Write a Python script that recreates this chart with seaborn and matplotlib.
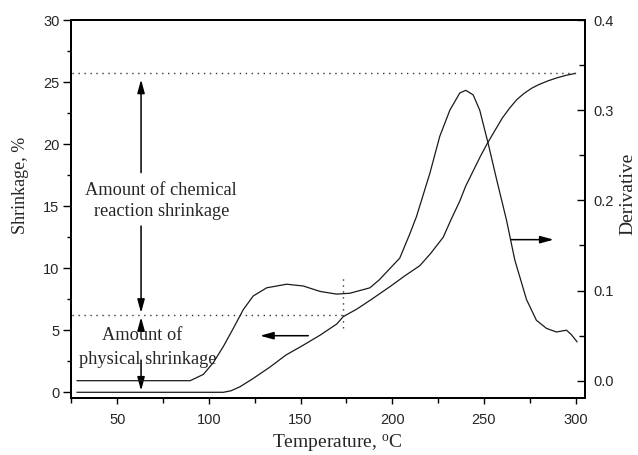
import matplotlib
matplotlib.use("Agg")
import matplotlib.pyplot as plt
from matplotlib.ticker import MultipleLocator, FormatStrFormatter
import seaborn as sns

# Linear shrinkage (%) versus temperature (deg C)
temp_shrink = [28, 107.9, 112, 117, 124, 133, 142, 151.5, 160.6, 169.7, 173.3,
               180.6, 187.8, 198.6, 207, 215, 221, 227.8, 232, 236.8, 240, 244,
               248, 252, 256, 260, 264, 268, 272, 276, 280, 285, 290, 295, 300]
shrinkage = [0, 0, 0.12, 0.45, 1.1, 2.0, 3.0, 3.8, 4.6, 5.5, 6.1,
             6.7, 7.4, 8.5, 9.4, 10.2, 11.2, 12.5, 13.9, 15.4, 16.6, 17.8,
             19.0, 20.1, 21.1, 22.1, 22.9, 23.6, 24.1, 24.5, 24.8, 25.1, 25.35, 25.55, 25.7]

# Derivative of the shrinkage curve
temp_deriv = [28, 89.8, 97, 102.4, 107.9, 113.3, 118.8, 124.2, 131.5, 142.4,
              151.5, 160.6, 169.7, 176.9, 187.8, 193, 204.1, 209.6, 213.2, 220.5,
              225.9, 231.4, 236.8, 240.1, 244.1, 247.7, 252.3, 256.8, 262.3, 266.8,
              273.2, 278.6, 284.1, 289.5, 295, 297.7, 300.8]
derivative = [0.0, 0.0, 0.007, 0.020, 0.038, 0.058, 0.079, 0.094, 0.103, 0.107,
              0.105, 0.099, 0.096, 0.097, 0.103, 0.112, 0.136, 0.163, 0.182, 0.230,
              0.271, 0.300, 0.319, 0.322, 0.317, 0.300, 0.263, 0.224, 0.178, 0.134,
              0.090, 0.067, 0.058, 0.054, 0.056, 0.051, 0.043]

total_shrinkage = 25.7      # level reached at the end of the run
physical_shrinkage = 6.2    # level at the transition temperature
transition_temp = 173.3

sns.set_style("ticks")
plt.rcParams["font.family"] = ["Liberation Sans", "DejaVu Sans"]
plt.rcParams["mathtext.default"] = "regular"

serif = ["Liberation Serif", "DejaVu Serif"]
line_color = "#1a1a1a"

fig = plt.figure(figsize=(6.38, 4.55), dpi=100)
ax = fig.add_axes([71 / 638, 1 - 398 / 455, 514 / 638, 378 / 455])
ax2 = ax.twinx()

sns.lineplot(x=temp_shrink, y=shrinkage, ax=ax, color=line_color, lw=0.9)
sns.lineplot(x=temp_deriv, y=derivative, ax=ax2, color=line_color, lw=0.9)

ax.set_xlim(24.8, 305.1)
ax.set_ylim(-0.46, 30)
ax2.set_ylim(-0.0192, 0.4)

ax.xaxis.set_major_locator(MultipleLocator(50))
ax.xaxis.set_minor_locator(MultipleLocator(25))
ax.yaxis.set_major_locator(MultipleLocator(5))
ax.yaxis.set_minor_locator(MultipleLocator(2.5))
ax2.yaxis.set_major_locator(MultipleLocator(0.1))
ax2.yaxis.set_minor_locator(MultipleLocator(0.05))
ax2.yaxis.set_major_formatter(FormatStrFormatter("%.1f"))

for a in (ax, ax2):
    for sp in a.spines.values():
        sp.set_visible(True)
        sp.set_linewidth(1.4)
        sp.set_color("black")

ax.tick_params(axis="x", which="both", top=False, bottom=True, direction="out",
               width=1.0, color="black", labelsize=10.5, pad=6.5)
ax.tick_params(axis="x", which="major", length=4)
ax.tick_params(axis="x", which="minor", length=3.5)
ax.tick_params(axis="y", which="both", left=True, right=False, direction="out",
               width=1.0, color="black", labelsize=10.5, pad=2.5)
ax.tick_params(axis="y", which="major", length=5.8)
ax.tick_params(axis="y", which="minor", length=3)
ax2.tick_params(axis="y", which="both", right=True, left=False, direction="in",
                width=1.0, color="black", labelsize=10.5, pad=6)
ax2.tick_params(axis="y", which="major", length=5.5)
ax2.tick_params(axis="y", which="minor", length=4)

ax.set_xlabel("Temperature, $^{o}$C", fontsize=14, family=serif)
ax.xaxis.set_label_coords(0.519, -0.092)
ax.set_ylabel("Shrinkage, %", fontsize=13, family=serif)
ax.yaxis.set_label_coords(-0.099, 0.5635)
ax.yaxis.label.set_va("center")
ax2.set_ylabel("Derivative", fontsize=14, family=serif)
ax2.yaxis.set_label_coords(1.084, 0.54)
ax2.yaxis.label.set_va("center")

# Reference levels
dots = (0, (1, 3.3))
ax.plot([25.5, 300], [total_shrinkage, total_shrinkage], ls=dots, lw=1, color="#333333")
ax.plot([25.5, transition_temp], [physical_shrinkage, physical_shrinkage],
        ls=dots, lw=1, color="#333333")
ax.plot([transition_temp, transition_temp], [5.15, 9.45], ls=dots, lw=1, color="#333333")

arrow = dict(arrowstyle="-|>,head_length=0.4,head_width=0.11", mutation_scale=20,
             lw=1.1, color="black", shrinkA=0, shrinkB=0)

# Chemical reaction shrinkage span
ax.annotate("", xy=(63, 25.2), xytext=(63, 17.7), arrowprops=arrow)
ax.annotate("", xy=(63, 6.4), xytext=(63, 13.4), arrowprops=arrow)
ax.text(74, 16.3, "Amount of chemical", ha="center", va="center", fontsize=13.2, family=serif)
ax.text(74.2, 14.55, "reaction shrinkage", ha="center", va="center", fontsize=13.2, family=serif)

# Physical shrinkage span
ax.annotate("", xy=(63, 6.05), xytext=(63, 5.0), arrowprops=arrow)
ax.annotate("", xy=(63, 0.13), xytext=(63, 2.6), arrowprops=arrow)
ax.text(63.6, 4.54, "Amount of", ha="center", va="center", fontsize=13.2, family=serif)
ax.text(66.5, 2.66, "physical shrinkage", ha="center", va="center", fontsize=13.2, family=serif)

# Arrows pointing each curve to its own axis
ax.annotate("", xy=(127.9, 4.56), xytext=(154.2, 4.56), arrowprops=arrow)
ax.annotate("", xy=(288, 12.3), xytext=(264.8, 12.3), arrowprops=arrow)

fig.savefig("out.png", dpi=100)
